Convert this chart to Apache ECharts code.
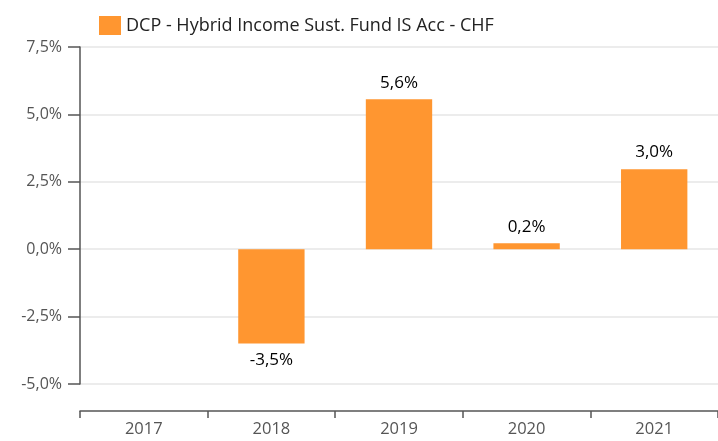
<!DOCTYPE html>
<html>
<head>
    <meta charset="UTF-8">
    <title>chart</title>
    <script src="https://cdn.jsdelivr.net/npm/echarts@6/dist/echarts.min.js"></script>
    <style>
        html, body { margin: 0; padding: 0; background: #fff; }
        #main { width: 718px; height: 441px; }
    </style>
</head>
<body>
<div id="main"></div>
<script type="text/javascript">
    var seriesName = 'DCP - Hybrid Income Sust. Fund IS Acc - CHF';
    var years = ['2017', '2018', '2019', '2020', '2021'];
    var returns = [null, -3.5, 5.56, 0.22, 2.97];
    var yTicks = [-5, -2.5, 0, 2.5, 5, 7.5];

    function pct(v) {
        return v.toFixed(1).replace('.', ',') + '%';
    }

    var myChart = echarts.init(document.getElementById('main'));
    var option = {
        animation: false,
        textStyle: { fontFamily: 'Open Sans' },
        legend: {
            left: 94,
            top: 11,
            icon: 'rect',
            itemWidth: 22,
            itemHeight: 19,
            itemGap: 10,
            textStyle: { fontSize: 18, color: '#222', fontFamily: 'Open Sans' },
            data: [seriesName]
        },
        grid: { left: 80, right: 0, top: 47, bottom: 57, containLabel: false },
        xAxis: {
            type: 'category',
            data: years,
            offset: 27,
            axisLine: { show: true, onZero: false, lineStyle: { color: '#555', width: 1.5 } },
            axisTick: { show: true, length: 7, lineStyle: { color: '#555', width: 1.5 } },
            axisLabel: { color: '#555', fontSize: 16.5, margin: 10 }
        },
        yAxis: {
            type: 'value',
            min: yTicks[0],
            max: yTicks[yTicks.length - 1],
            interval: 2.5,
            axisLine: { show: true, lineStyle: { color: '#555', width: 1.5 } },
            axisTick: { show: true, length: 12, lineStyle: { color: '#555', width: 1.5 } },
            axisLabel: { color: '#555', fontSize: 16, margin: 18, formatter: pct },
            splitLine: { show: true, lineStyle: { color: '#e6e6e6', width: 1.5 } }
        },
        series: [{
            name: seriesName,
            type: 'bar',
            barWidth: '52%',
            itemStyle: { color: '#ff9630' },
            label: {
                show: true,
                position: 'top',
                distance: 8,
                color: '#000',
                fontSize: 17,
                formatter: function (p) { return pct(p.value); }
            },
            // 负值标签放在柱子下方
            data: returns.map(function (v) {
                if (v !== null && v < 0) {
                    return { value: v, label: { position: 'bottom' } };
                }
                return v;
            })
        }]
    };
    myChart.setOption(option);
</script>
</body>
</html>
